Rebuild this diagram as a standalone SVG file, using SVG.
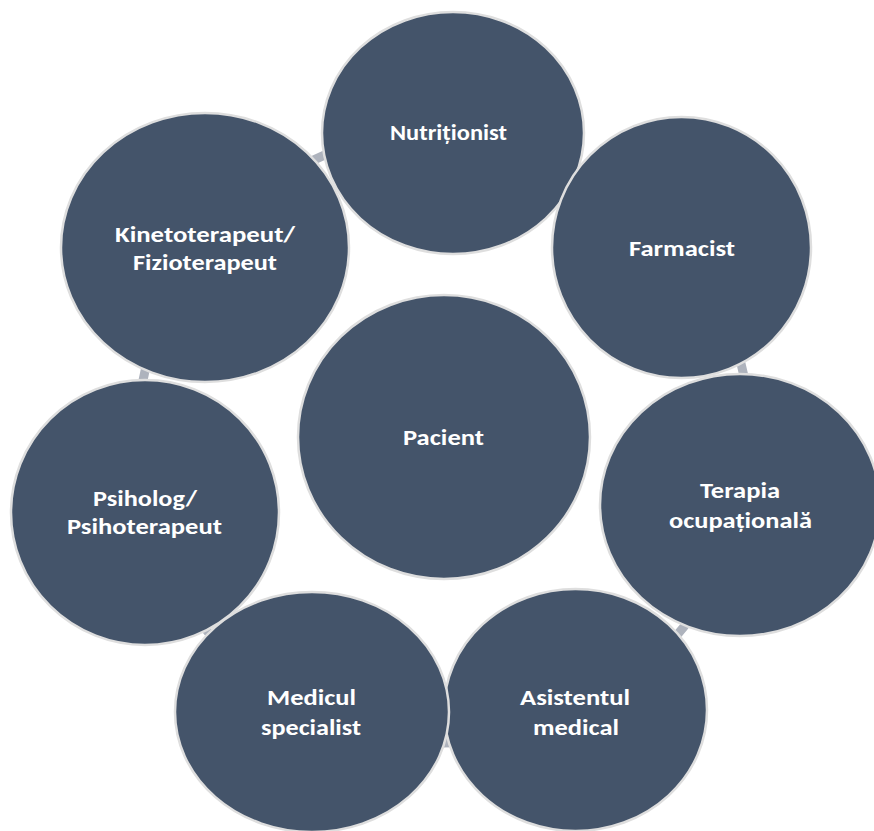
<svg xmlns="http://www.w3.org/2000/svg" width="874" height="831" viewBox="0 0 874 831">
<style>
.node ellipse { fill: #44546A; stroke: #DEDEDE; stroke-width: 2.5; }
.node text { fill: #FFFFFF; font-family: Carlito, Lato, "Liberation Sans", sans-serif; font-weight: bold; font-size: 23px; text-anchor: middle; }
.ring { fill: none; stroke: #AEB3BD; stroke-width: 9; }
</style>
<rect x="0" y="0" width="874" height="831" fill="#FFFFFF"/>
<g id="connectors">
  <path class="ring" d="M 610.6 180.4 A 306 306 0 1 1 548.7 149.5"/>
</g>
<g id="pacient" class="node">
  <ellipse cx="444" cy="437" rx="146" ry="142"/>
  <text x="443.5" y="445" textLength="81" lengthAdjust="spacingAndGlyphs">Pacient</text>
</g>
<g id="nutritionist" class="node">
  <ellipse cx="453" cy="133" rx="131" ry="121"/>
  <text x="448.5" y="140" textLength="117" lengthAdjust="spacingAndGlyphs">Nutriționist</text>
</g>
<g id="farmacist" class="node">
  <ellipse cx="681.5" cy="247.5" rx="129.5" ry="130.5"/>
  <text x="682" y="256" textLength="106" lengthAdjust="spacingAndGlyphs">Farmacist</text>
</g>
<g id="terapia" class="node">
  <ellipse cx="740" cy="505" rx="140" ry="131"/>
  <text x="740" y="498" textLength="80" lengthAdjust="spacingAndGlyphs">Terapia</text>
  <text x="740.5" y="527.5" textLength="143" lengthAdjust="spacingAndGlyphs">ocupațională</text>
</g>
<g id="asistentul" class="node">
  <ellipse cx="575.5" cy="710" rx="131.5" ry="121"/>
  <text x="575" y="705" textLength="110" lengthAdjust="spacingAndGlyphs">Asistentul</text>
  <text x="576" y="735" textLength="86" lengthAdjust="spacingAndGlyphs">medical</text>
</g>
<g id="medicul" class="node">
  <ellipse cx="312" cy="712" rx="137" ry="120"/>
  <text x="311.5" y="705" textLength="89" lengthAdjust="spacingAndGlyphs">Medicul</text>
  <text x="311" y="735" textLength="100" lengthAdjust="spacingAndGlyphs">specialist</text>
</g>
<g id="psiholog" class="node">
  <ellipse cx="145" cy="512.5" rx="134" ry="132.5"/>
  <text x="145" y="505.5" textLength="104" lengthAdjust="spacingAndGlyphs">Psiholog/</text>
  <text x="144.5" y="534" textLength="155" lengthAdjust="spacingAndGlyphs">Psihoterapeut</text>
</g>
<g id="kinetoterapeut" class="node">
  <ellipse cx="205" cy="247.5" rx="144" ry="134.5"/>
  <text x="205" y="242" textLength="180" lengthAdjust="spacingAndGlyphs">Kinetoterapeut/</text>
  <text x="205" y="270" textLength="144" lengthAdjust="spacingAndGlyphs">Fizioterapeut</text>
</g>
</svg>
